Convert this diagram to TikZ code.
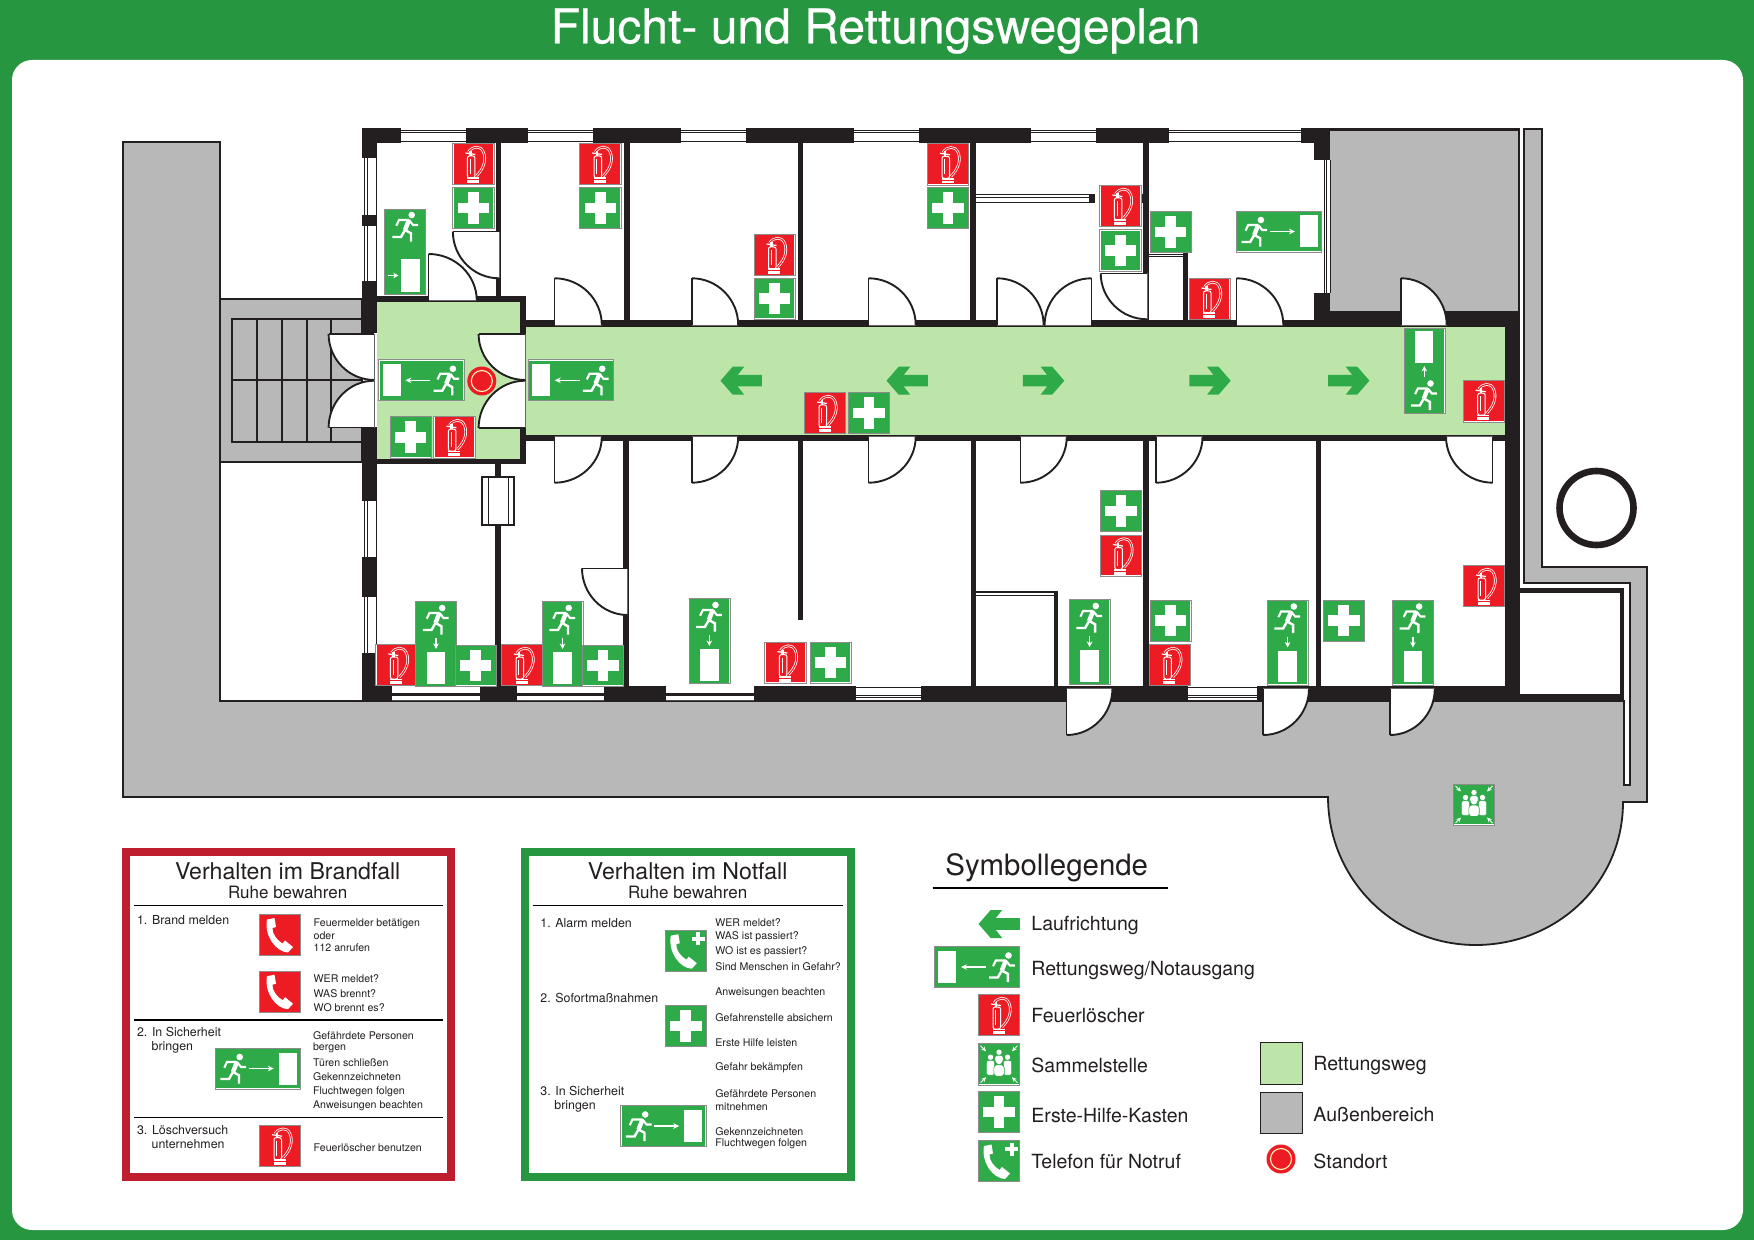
\documentclass[tikz,border=0pt]{standalone}
\usepackage{fontspec}
\setmainfont{TeX Gyre Heros}
\newfontfamily\titlefont[FakeBold=0.5]{TeX Gyre Heros}
\usetikzlibrary{calc,arrows.meta}
\definecolor{framegreen}{HTML}{269640}
\definecolor{signgreen}{HTML}{2EAA48}
\definecolor{signred}{HTML}{ED1C24}
\definecolor{panelred}{HTML}{BE1E2D}
\definecolor{floorgreen}{HTML}{BDE5AA}
\definecolor{outgrey}{HTML}{B8B8B8}
\definecolor{wallblack}{HTML}{231F20}
\newcounter{nn}
\tikzset{
 wallfill/.style={fill=wallblack},
 thinln/.style={draw=wallblack,line width=.5pt},
 outline/.style={draw=wallblack,line width=.9pt},
 txtbase/.style={inner sep=0pt,anchor=west,text=wallblack},
 txttiny/.style={txtbase,yshift=-.4pt,font=\fontsize{5.3}{6}\selectfont},
 txtitem/.style={txtbase,yshift=-.5pt,font=\fontsize{6.2}{7}\selectfont},
 txtleg/.style={txtbase,yshift=-.9pt,font=\fontsize{9.75}{11}\selectfont},
 txthead/.style={txtbase,anchor=center,yshift=-.4pt,font=\fontsize{11.55}{13}\selectfont},
 txtsub/.style={txtbase,anchor=center,font=\fontsize{8.5}{10}\selectfont},
 phoneshape/.pic={
  \fill[white] (-12,-15.5)--(-4.5,-17)--(-3,-8)--(-6.5,-7)
    .. controls (-7,-1) and (-2,5) .. (3.5,8.5)--(6,5.5)--(14,12)--(9,17.5)
    .. controls (-3,17) and (-15,1) .. (-12,-15.5)--cycle;
 },
 runner/.pic={
  \fill[white] (6.7,-12) circle (3.3);
  \draw[white,line width=2.2pt] (4,-7)--(0,3);
  \draw[white,line width=1.05pt,line join=miter] (4,-7)--(-6,-7)--(-8.7,-1.3);
  \draw[white,line width=1.05pt,line join=miter] (4,-7)--(8,-2)--(13,-2);
  \draw[white,line width=1.2pt,line join=miter] (0,3)--(-4,10)--(-12.7,10);
  \draw[white,line width=1.2pt,line join=miter] (0,3)--(6,6.3)--(6,14.7);
 },
 firesign/.pic={
  \fill[white] (-20.7,-20.7) rectangle (20.7,20.7);
  \draw[black!45,line width=.3pt] (-20.7,-20.7) rectangle (20.7,20.7);
  \fill[signred] (-19.8,-19.8) rectangle (19.8,19.8);
  \draw[white,line width=.5pt,rounded corners=1pt] (-6,-8) rectangle (1.5,14);
  \draw[white,line width=.4pt] (-3.5,-5)--(-3.5,10);
  \fill[white] (-6.5,13.5) rectangle (5.5,19);
  \draw[signred,line width=.25pt] (-6.5,15.5)--(5.5,15.5);
  \draw[white,line width=1.3pt] (-5,-12) .. controls (-1,-18) and (7,-19) .. (10,-12) .. controls (13,-5) and (11,4) .. (3,12);
  \draw[signred,line width=.5pt] (-5,-12) .. controls (-1,-18) and (7,-19) .. (10,-12) .. controls (13,-5) and (11,4) .. (3,12);
  \draw[white,line width=.6pt] (-8,-11)--(2,-9.5);
  \draw[white,line width=1.2pt] (-3,-13)--(-3,-8);
 },
 aidsign/.pic={
  \fill[white] (-20.7,-20.7) rectangle (20.7,20.7);
  \draw[black!45,line width=.3pt] (-20.7,-20.7) rectangle (20.7,20.7);
  \fill[signgreen] (-19.8,-19.8) rectangle (19.8,19.8);
  \fill[white] (-15.7,-5.4) rectangle (15.7,5.4);
  \fill[white] (-5.4,-15.7) rectangle (5.4,15.7);
 },
 redphone/.pic={
  \fill[white] (-20.7,-20.7) rectangle (20.7,20.7);
  \draw[black!45,line width=.3pt] (-20.7,-20.7) rectangle (20.7,20.7);
  \fill[signred] (-19.8,-19.8) rectangle (19.8,19.8);
  \pic at (-1,0) {phoneshape};
 },
 telsign/.pic={
  \fill[white] (-20.7,-20.7) rectangle (20.7,20.7);
  \draw[black!45,line width=.3pt] (-20.7,-20.7) rectangle (20.7,20.7);
  \fill[signgreen] (-19.8,-19.8) rectangle (19.8,19.8);
  \pic at (-3,0.5) {phoneshape};
  \fill[white] (6,-14) rectangle (19,-10);
  \fill[white] (10.5,-18.5) rectangle (14.5,-5.5);
 },
 meetsign/.pic={
  \fill[white] (-20.7,-20.7) rectangle (20.7,20.7);
  \draw[black!45,line width=.3pt] (-20.7,-20.7) rectangle (20.7,20.7);
  \fill[signgreen] (-19.8,-19.8) rectangle (19.8,19.8);
  \foreach \sx in {-1,1}{\foreach \sy in {-1,1}{
   \draw[white,line width=.4pt,-{Stealth[length=2.4pt,width=2.2pt]}] (\sx*18.5,\sy*18.5)--(\sx*13,\sy*13);
  }}
  \foreach \px/\py/\pb in {0/-12/-2,-8.5/-7/11,8.5/-7/11}{
   \fill[white] (\px,\py) circle (2.7);
   \fill[white,draw=signgreen,line width=.25pt,rounded corners=1.2pt] (\px-4.2,\py+3.2) rectangle (\px+4.2,\pb);
  }
  \fill[white] (0,-3.2) circle (3.2);
  \fill[white,draw=signgreen,line width=.3pt,rounded corners=1.5pt] (-5.2,0.6) rectangle (5.2,12);
 },
 exitright/.pic={
  \fill[white] (-42.7,-20.5) rectangle (42.7,20.5);
  \draw[black!45,line width=.3pt] (-42.7,-20.5) rectangle (42.7,20.5);
  \fill[signgreen] (-41.8,-19.6) rectangle (41.8,19.6);
  \fill[white] (20.8,-16) rectangle (38.8,16);
  \pic at (-24.8,0.5) {runner};
  \draw[white,line width=.65pt,-{Stealth[length=3pt,width=2.8pt]}] (-9,0)--(16,0);
 },
 exitdown/.pic={
  \fill[white] (-20.5,-42.7) rectangle (20.5,42.7);
  \draw[black!45,line width=.3pt] (-20.5,-42.7) rectangle (20.5,42.7);
  \fill[signgreen] (-19.6,-41.8) rectangle (19.6,41.8);
  \fill[white] (-9.2,8) rectangle (9.2,39.7);
  \pic at (-0.5,-24) {runner};
  \draw[white,line width=.6pt,-{Stealth[length=2.8pt,width=2.8pt]}] (0,-6)--(0,5);
 },
 exitup/.pic={
  \fill[white] (-20.5,-42.7) rectangle (20.5,42.7);
  \draw[black!45,line width=.3pt] (-20.5,-42.7) rectangle (20.5,42.7);
  \fill[signgreen] (-19.6,-41.8) rectangle (19.6,41.8);
  \fill[white] (-9,-40) rectangle (9,-8);
  \pic at (-0.5,24.5) {runner};
  \draw[white,line width=.6pt,-{Stealth[length=2.8pt,width=2.8pt]}] (0,6)--(0,-5);
 },
 exitturn/.pic={
  \fill[white] (-20.5,-42.7) rectangle (20.5,42.7);
  \draw[black!45,line width=.3pt] (-20.5,-42.7) rectangle (20.5,42.7);
  \fill[signgreen] (-19.6,-41.8) rectangle (19.6,41.8);
  \fill[white] (-4.3,7) rectangle (15,40.5);
  \pic at (0,-25) {runner};
  \draw[white,line width=.6pt,-{Stealth[length=2.6pt,width=2.8pt]}] (-17.5,23.5)--(-6.5,23.5);
 },
 walkarrow/.pic={
  \fill[signgreen] (-20.7,-5.8)--(3.5,-5.8)--(-3,-14)--(8.5,-14)--(20.7,0)--(8.5,14)--(-3,14)--(3.5,5.8)--(-20.7,5.8)--cycle;
 },
 herespot/.pic={
  \fill[signred] (0,0) circle (14.5);
  \draw[white!75!yellow,line width=.55pt] (0,0) circle (10.5);
 },
}
\newcommand\wl[4]{\fill[wallfill] (#1,#2) rectangle (#3,#4);}
\newcommand\door[6]{
 \fill[white] (#1,#2)--(#3,#4)--(#5,#6) .. controls ($(#5,#6)+0.55*(#1,#2)-0.55*(#3,#4)$) and ($(#1,#2)+0.55*(#5,#6)-0.55*(#3,#4)$) .. (#1,#2)--cycle;
 \draw[black!60,line width=.35pt] (#3,#4)--(#5,#6);
 \draw[wallblack,line width=.7pt] (#3,#4)--(#1,#2);
 \draw[wallblack,line width=.95pt] (#1,#2) .. controls ($(#1,#2)+0.55*(#5,#6)-0.55*(#3,#4)$) and ($(#5,#6)+0.55*(#1,#2)-0.55*(#3,#4)$) .. (#5,#6);
}
\newcommand\topwin[2]{
 \draw[thinln] (#1,130.5)--(#2,130.5) (#1,133)--(#2,133) (#1,141.7)--(#2,141.7);
}
\newcommand\botwin[2]{
 \draw[wallblack,line width=1.8pt] (#1,694.5)--(#2,694.5);
 \draw[black!70,line width=.5pt] (#1,700.5)--(#2,700.5);
}
\newcommand\botwinb[2]{
 \draw[thinln] (#1,687.3)--(#2,687.3) (#1,695)--(#2,695) (#1,697)--(#2,697) (#1,700.5)--(#2,700.5);
}
\newcommand\sidewin[2]{
 \draw[thinln] (364,#1)--(364,#2) (367,#1)--(367,#2) (376.3,#1)--(376.3,#2);
}
\newcommand\Fs[2]{\pic at (#1,#2) {firesign};}
\newcommand\As[2]{\pic at (#1,#2) {aidsign};}
\newcommand\Dn[2]{\pic at (#1,#2) {exitdown};}
\newcommand\Wk[3]{\pic[xscale=#3] at (#1,#2) {walkarrow};}
\newcommand\tx[4]{\stepcounter{nn}\node[#1] (n\arabic{nn}) at (#2,#3) {#4};}
\begin{document}
\begin{tikzpicture}[x=.5pt,y=-.5pt]
\useasboundingbox (0,0) rectangle (1754,1240);
\fill[framegreen] (0,0) rectangle (1754,1240);
\fill[white,rounded corners=10pt] (12,60) rectangle (1743,1230);
\node[inner sep=0pt,text=white,font=\titlefont\fontsize{24}{27}\selectfont] (title) at (875.5,31) {Flucht- und Rettungswegeplan};

% outside area
\path[fill=outgrey,outline] (123,142)--(220,142)--(220,701)--(1624,701)--(1624,785)--(1630,785)--(1630,583)--(1524,583)--(1524,129)--(1542,129)--(1542,567)--(1647,567)--(1647,802)--(1623,802)
 .. controls (1623,883) and (1557,945) .. (1475.5,945) .. controls (1394,945) and (1328,879) .. (1328,797)--(123,797)--cycle;
\path[fill=outgrey,outline] (220,299) rectangle (362,462);
\fill[outgrey] (1330,131) rectangle (1518,311);
\draw[wallblack,line width=3.3pt] (1596.5,508) circle (37);

% stairs
\draw[wallblack,line width=1pt] (362,319.3)--(232,319.3)--(232,442.3)--(362,442.3) (232,380)--(362,380)
 (257,319.3)--(257,442.3) (282,319.3)--(282,442.3) (306.5,319.3)--(306.5,442.3) (331,319.3)--(331,442.3);

% escape route floors
\fill[floorgreen] (377,302) rectangle (520,459);
\fill[floorgreen] (526,327) rectangle (1505,435);

% walls: top row
\wl{362}{128}{401}{143} \wl{466}{128}{528}{143} \wl{593}{128}{681}{143} \wl{746}{128}{853.6}{143}
\wl{918.6}{128}{1031}{143} \wl{1096}{128}{1168.6}{143} \wl{1301}{128}{1330}{143}
\wl{1314}{143}{1330}{160} \wl{1330}{128}{1520}{131} \wl{1518}{128}{1520}{311}
\topwin{401}{466} \topwin{528}{593} \topwin{681}{746} \topwin{853.6}{918.6} \topwin{1031}{1096} \topwin{1168.6}{1301}
\draw[thinln] (1324,160)--(1324,293) (1326.7,160)--(1326.7,293);
\draw[thinln] (1330,160)--(1330,293);
% walls: left side
\wl{362}{128}{377}{158} \sidewin{158}{215} \wl{362}{215}{377}{226} \sidewin{226}{281}
\wl{362}{281}{377}{333} \wl{362}{427}{377}{501} \sidewin{501}{557} \wl{362}{557}{377}{597} \sidewin{597}{653} \wl{362}{653}{377}{701}
% walls: hall
\wl{377}{296}{526}{302} \wl{520}{296}{526}{464} \wl{362}{459}{526}{464}
% walls: corridor
\wl{526}{320}{1314}{327} \wl{526}{435}{1505}{441} \wl{1314}{293}{1330}{327} \wl{1330}{311}{1520}{327} \wl{1505}{311}{1520}{701}
% partitions, upper
\wl{495.5}{143}{500.5}{296} \wl{624}{143}{630}{320} \wl{797.5}{143}{803}{320} \wl{970}{143}{976}{320} \wl{1143}{143}{1148.6}{320} \wl{1183}{253}{1188}{320}
\draw[thinln] (1148.6,254.3)--(1183,254.3) (1148.6,257)--(1183,257);
\draw[thinln] (976,195)--(1089,195) (976,197.5)--(1089,197.5) (976,203)--(1089,203);
\wl{1089}{194}{1095}{203} \wl{1141}{194}{1143}{203}
% partitions, lower
\wl{495}{464}{501}{686} \wl{623}{441}{629}{686} \wl{797.5}{441}{803}{620} \wl{971}{441}{976}{686} \wl{1143}{441}{1149}{686} \wl{1316}{441}{1321}{686}
\path[fill=white,draw=wallblack,line width=.8pt] (482,477) rectangle (514,525);
\draw[thinln] (488,477)--(488,525) (508,477)--(508,525);
\draw[thinln] (976,595)--(1054,595);
\wl{976}{591}{1058}{592.6} \wl{1054}{591}{1058}{686}
% walls: bottom row
\wl{362}{686}{392}{701} \wl{480}{686}{517}{701} \wl{604}{686}{666}{701} \wl{754}{686}{856}{701} \wl{921}{686}{1188}{701} \wl{1257}{686}{1519}{701}
\botwin{392}{480} \botwin{517}{604} \botwin{666}{754} \botwinb{856}{921} \botwinb{1188}{1257}
% small room, right
\wl{1519}{587.5}{1624}{593} \wl{1620}{587.5}{1624}{701} \wl{1519}{694}{1624}{701}

% doors
\door{428.6}{254}{428.6}{300.7}{476.8}{300.7}
\door{452.9}{231.7}{499}{231.7}{499}{278.3}
\door{554.6}{278.3}{554.6}{325}{601.8}{325}
\door{328.6}{334}{374.3}{334}{374.3}{380}
\door{328.6}{427.7}{374.3}{427.7}{374.3}{380.7}
\door{478.6}{334}{525}{334}{525}{380}
\door{478.6}{428}{525}{428}{525}{380.7}
\door{554.6}{482.7}{554.6}{436.7}{601.8}{436.7}
\door{691.8}{278.3}{691.8}{325}{738.2}{325}
\door{868.6}{278.3}{868.6}{325}{915.7}{325}
\door{997}{278.3}{997}{325}{1043.6}{325}
\door{1091.4}{278.3}{1091.4}{325}{1044.6}{325}
\door{1100.7}{273.3}{1147}{273.3}{1147}{319.3}
\door{691.8}{482.7}{691.8}{436.7}{738.2}{436.7}
\door{868.6}{482.7}{868.6}{436.7}{915.7}{436.7}
\door{1020.4}{482.7}{1020.4}{436.7}{1066.8}{436.7}
\door{1156}{482.7}{1156}{436.7}{1202.5}{436.7}
\door{1236.7}{278.3}{1236.7}{325}{1283.3}{325}
\door{1401}{278.3}{1401}{325}{1446.7}{325}
\door{1492.7}{482.7}{1492.7}{436.7}{1446}{436.7}
\door{1066.7}{735}{1066.7}{688.7}{1112.4}{688.7}
\door{1263}{735}{1263}{688.7}{1309}{688.7}
\door{1390}{735}{1390}{688.7}{1434.8}{688.7}
\door{582}{568.3}{627.5}{568.3}{627.5}{615}

% walking direction arrows
\Wk{741.2}{380.7}{-1} \Wk{907.2}{380.7}{-1} \Wk{1043.6}{380.7}{1} \Wk{1210}{380.7}{1} \Wk{1348.7}{380.7}{1}

% plan signs
\Fs{473.4}{164} \As{473.4}{208} \Fs{600.2}{164} \As{600.2}{208}
\As{410.7}{437.2} \Fs{454.4}{437.2}
\Fs{774.5}{255} \As{774.5}{298.7} \Fs{948}{164.3} \As{948}{208}
\Fs{1120.4}{206} \As{1120.4}{250.5} \As{1170.7}{232} \Fs{1209.5}{299}
\Fs{825}{413} \As{869}{413} \Fs{1483.7}{401.2}
\pic at (1279,231.5) {exitright};
\pic at (1424.3,371) {exitup};
\pic[xscale=-1] at (421.4,380.3) {exitright};
\pic[xscale=-1] at (570.7,380.3) {exitright};
\pic at (405,252) {exitturn};
\pic at (481.8,381) {herespot};
\Fs{396.4}{665} \Dn{436}{644} \As{475.7}{665.5}
\Fs{522}{665} \Dn{562.5}{644} \As{602.9}{665.5}
\Dn{709.3}{641} \Fs{785.4}{662.6} \As{830.5}{662.6}
\As{1120.9}{511} \Fs{1120.9}{555.5} \Dn{1089.6}{642}
\As{1170.6}{620.7} \Fs{1169.8}{665} \Dn{1287.6}{642.5} \As{1343.8}{620.7} \Dn{1412.9}{642.5} \Fs{1484}{586}
\pic at (1474,804.5) {meetsign};

% panel: Brandfall
\draw[panelred,line width=4pt] (126,852) rectangle (451,1177);
\tx{txthead}{287.7}{870}{Verhalten im Brandfall}
\tx{txtsub}{287.7}{892.7}{Ruhe bewahren}
\draw[black,line width=.65pt] (134,905.7)--(443,905.7) (134,1020)--(443,1020) (134,1117.7)--(443,1117.7);
\tx{txtitem}{136.7}{919}{1. Brand melden}
\pic at (280,935) {redphone};
\pic at (280,991.7) {redphone};
\tx{txttiny}{313.3}{922.7}{Feuermelder betätigen}
\tx{txttiny}{313.3}{934.7}{oder}
\tx{txttiny}{313.3}{947.3}{112 anrufen}
\tx{txttiny}{313.3}{978.3}{WER meldet?}
\tx{txttiny}{313.3}{992.7}{WAS brennt?}
\tx{txttiny}{313.3}{1007.3}{WO brennt es?}
\tx{txtitem}{136.7}{1030.7}{2. In Sicherheit}
\tx{txtitem}{151.3}{1046}{bringen}
\pic at (257.8,1068.5) {exitright};
\tx{txttiny}{312.7}{1034.7}{Gefährdete Personen}
\tx{txttiny}{312.7}{1046.7}{bergen}
\tx{txttiny}{312.7}{1061.7}{Türen schließen}
\tx{txttiny}{312.7}{1075.7}{Gekennzeichneten}
\tx{txttiny}{312.7}{1090.7}{Fluchtwegen folgen}
\tx{txttiny}{312.7}{1105}{Anweisungen beachten}
\tx{txtitem}{136.7}{1129}{3. Löschversuch}
\tx{txtitem}{151.3}{1143.3}{unternehmen}
\pic at (280,1145.7) {firesign};
\tx{txttiny}{313.3}{1146.7}{Feuerlöscher benutzen}

% panel: Notfall
\draw[framegreen,line width=4pt] (525,852) rectangle (851,1177);
\tx{txthead}{687.7}{870}{Verhalten im Notfall}
\tx{txtsub}{687.7}{892.7}{Ruhe bewahren}
\draw[black,line width=.65pt] (532.7,905.7)--(842.7,905.7);
\tx{txtitem}{540}{921.7}{1. Alarm melden}
\pic at (685.8,950.7) {telsign};
\tx{txtitem}{540}{996.7}{2. Sofortmaßnahmen}
\pic at (685.8,1026) {aidsign};
\tx{txtitem}{540}{1090}{3. In Sicherheit}
\tx{txtitem}{554}{1105}{bringen}
\pic at (663.3,1126) {exitright};
\tx{txttiny}{715}{921.7}{WER meldet?}
\tx{txttiny}{715}{936.3}{WAS ist passiert?}
\tx{txttiny}{715}{951}{WO ist es passiert?}
\tx{txttiny}{715}{965.7}{Sind Menschen in Gefahr?}
\tx{txttiny}{715}{991.7}{Anweisungen beachten}
\tx{txttiny}{715}{1016.7}{Gefahrenstelle absichern}
\tx{txttiny}{715}{1041.7}{Erste Hilfe leisten}
\tx{txttiny}{715}{1066.7}{Gefahr bekämpfen}
\tx{txttiny}{715}{1093.3}{Gefährdete Personen}
\tx{txttiny}{715}{1106}{mitnehmen}
\tx{txttiny}{715}{1130.7}{Gekennzeichneten}
\tx{txttiny}{715}{1143.3}{Fluchtwegen folgen}

% legend
\node[txtbase,yshift=-.9pt,font=\fontsize{14.7}{17}\selectfont] (legendhead) at (945,866) {Symbollegende};
\draw[black,line width=.75pt] (932.5,888)--(1167.5,888);
\Wk{999.2}{924}{-1}
\pic[xscale=-1] at (977,967) {exitright};
\Fs{999}{1015}
\pic at (999,1064.2) {meetsign};
\As{999}{1112}
\pic at (999,1161) {telsign};
\tx{txtleg}{1031}{923.3}{Laufrichtung}
\tx{txtleg}{1031}{969}{Rettungsweg/Notausgang}
\tx{txtleg}{1031}{1013.3}{Feuerlöscher}
\tx{txtleg}{1031}{1063.3}{Sammelstelle}
\tx{txtleg}{1031}{1113.3}{Erste-Hilfe-Kasten}
\tx{txtleg}{1031}{1160}{Telefon für Notruf}
\path[fill=floorgreen,draw=wallblack,line width=.45pt] (1260.4,1042.3) rectangle (1302.5,1084.3);
\path[fill=outgrey,draw=wallblack,line width=.45pt] (1260.4,1092.3) rectangle (1302.5,1133.3);
\pic at (1281,1159) {herespot};
\tx{txtleg}{1313}{1064}{Rettungsweg}
\tx{txtleg}{1313}{1112.7}{Außenbereich}
\tx{txtleg}{1313}{1160}{Standort}
\end{tikzpicture}
\end{document}
